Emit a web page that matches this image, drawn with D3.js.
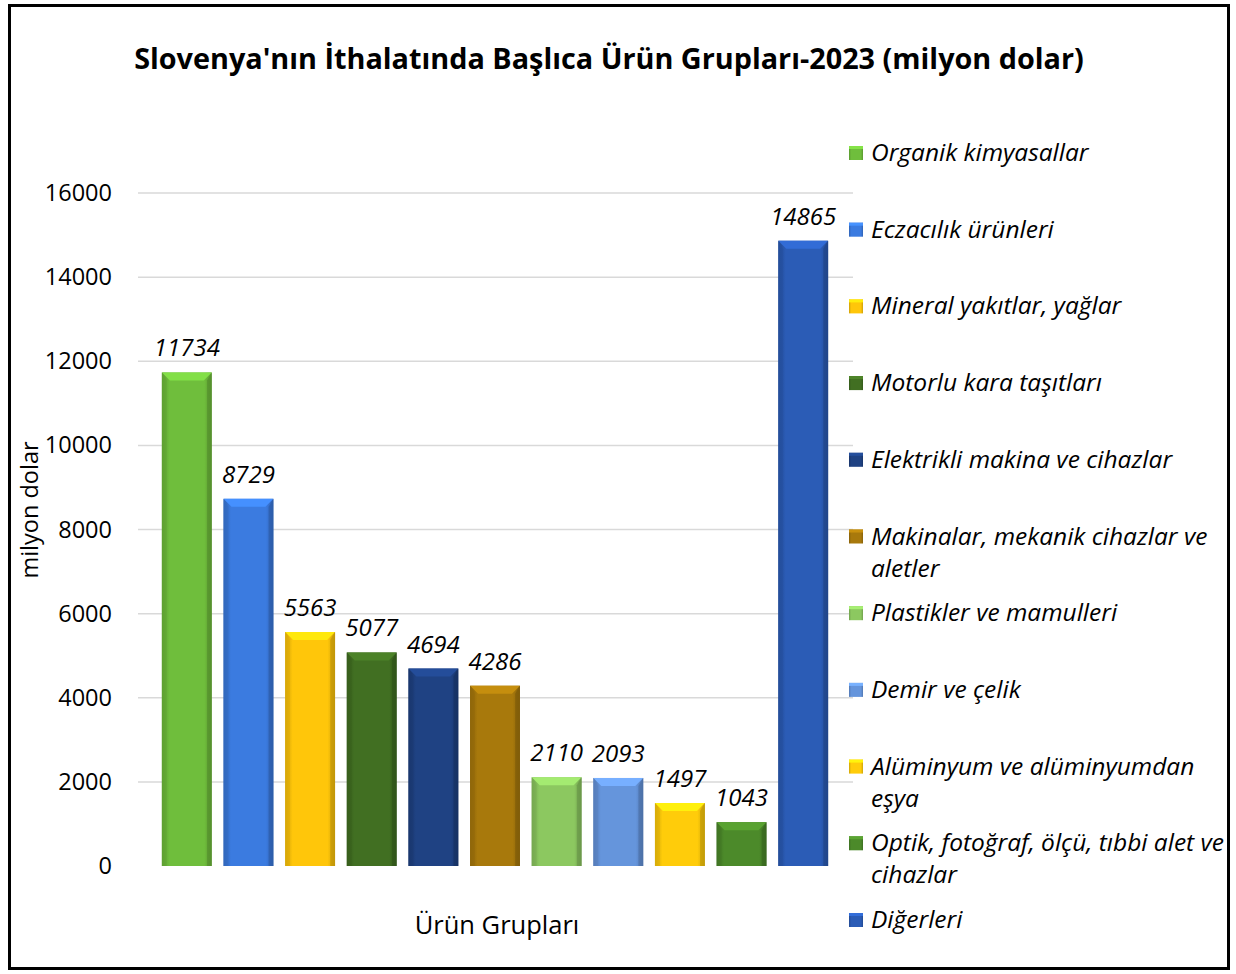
<!DOCTYPE html>
<html>
<head>
<meta charset="utf-8">
<script src="https://cdn.jsdelivr.net/npm/d3@7"></script>
<style>
  body { margin: 0; background: #fff; }
  text { font-family: "Open Sans", "Noto Sans", sans-serif; }
</style>
</head>
<body>
<svg id="chart"></svg>
<script>
// data
const categories = [
  "Organik kimyasallar", "Eczacılık ürünleri", "Mineral yakıtlar, yağlar",
  "Motorlu kara taşıtları", "Elektrikli makina ve cihazlar",
  "Makinalar, mekanik cihazlar ve aletler", "Plastikler ve mamulleri",
  "Demir ve çelik", "Alüminyum ve alüminyumdan eşya",
  "Optik, fotoğraf, ölçü, tıbbi alet ve cihazlar", "Diğerleri"
];
const values = [11734, 8729, 5563, 5077, 4694, 4286, 2110, 2093, 1497, 1043, 14865];
const legendLines = [
  ["Organik kimyasallar"], ["Eczacılık ürünleri"], ["Mineral yakıtlar, yağlar"],
  ["Motorlu kara taşıtları"], ["Elektrikli makina ve cihazlar"],
  ["Makinalar, mekanik cihazlar ve", "aletler"], ["Plastikler ve mamulleri"],
  ["Demir ve çelik"], ["Alüminyum ve alüminyumdan", "eşya"],
  ["Optik, fotoğraf, ölçü, tıbbi alet ve", "cihazlar"], ["Diğerleri"]
];
const colors = ["#6fbe3c", "#3b7be0", "#ffc60a", "#416f22", "#1f4283", "#a8790c",
                "#8cc860", "#6595dc", "#ffcc0a", "#4c8a2a", "#2b5cb6"];
const yTicks = [0, 2000, 4000, 6000, 8000, 10000, 12000, 14000, 16000];

const width = 1236, height = 974;
const svg = d3.select("#chart").attr("width", width).attr("height", height);
const defs = svg.append("defs");

// frame
svg.append("rect").attr("x", 9.5).attr("y", 5.5).attr("width", 1219).attr("height", 963)
  .attr("fill", "#fff").attr("stroke", "#000").attr("stroke-width", 3);

svg.append("text").attr("x", 609).attr("y", 69).attr("text-anchor", "middle")
  .attr("font-size", 28.8).attr("font-weight", "bold")
  .text("Slovenya'nın İthalatında Başlıca Ürün Grupları-2023 (milyon dolar)");

const x = d3.scaleBand().domain(categories).range([156, 834]).paddingInner(0.19).paddingOuter(0.095);
const y = d3.scaleLinear().domain([0, 16000]).range([866, 193]);

// gridlines
svg.append("g").selectAll("line").data(yTicks.slice(1)).join("line")
  .attr("x1", 138).attr("x2", 853)
  .attr("y1", d => y(d)).attr("y2", d => y(d))
  .attr("stroke", "#d9d9d9").attr("stroke-width", 1.5);

const yAxis = svg.append("g").attr("transform", "translate(112,0)")
  .call(d3.axisLeft(y).tickValues(yTicks).tickSize(0).tickPadding(0).tickFormat(d3.format("d")));
yAxis.select(".domain").remove();
yAxis.selectAll("text").attr("font-size", 23.5).attr("fill", "#000")
  .style("font-family", "'Open Sans', sans-serif");

svg.append("text").attr("transform", "translate(38,510) rotate(-90)")
  .attr("text-anchor", "middle").attr("font-size", 23.5).text("milyon dolar");
svg.append("text").attr("x", 497).attr("y", 934).attr("text-anchor", "middle")
  .attr("font-size", 25.5).text("Ürün Grupları");

// gradients
colors.forEach((c, i) => {
  const g = defs.append("linearGradient").attr("id", "g" + i).attr("x1", 0).attr("x2", 1).attr("y1", 0).attr("y2", 0);
  const base = d3.color(c);
  g.append("stop").attr("offset", "0%").attr("stop-color", base.darker(0.6));
  g.append("stop").attr("offset", "15%").attr("stop-color", base);
  g.append("stop").attr("offset", "85%").attr("stop-color", base);
  g.append("stop").attr("offset", "100%").attr("stop-color", base.darker(0.6));
});

const bw = x.bandwidth(), bev = 8;
const bars = svg.append("g").selectAll("g").data(categories).join("g");
bars.append("rect")
  .attr("x", d => x(d)).attr("y", (d, i) => y(values[i]))
  .attr("width", bw).attr("height", (d, i) => y(0) - y(values[i]))
  .attr("fill", (d, i) => `url(#g${i})`);
// top bevel
bars.append("path")
  .attr("d", (d, i) => {
    const x0 = x(d), y0 = y(values[i]);
    return `M${x0},${y0}L${x0 + bw},${y0}L${x0 + bw - bev},${y0 + bev}L${x0 + bev},${y0 + bev}Z`;
  })
  .attr("fill", (d, i) => d3.color(colors[i]).brighter(0.45));
// side bevels
bars.append("path")
  .attr("d", (d, i) => {
    const x0 = x(d), y0 = y(values[i]), yb = y(0);
    return `M${x0},${y0}L${x0 + bev * 0.6},${y0 + bev}L${x0 + bev * 0.6},${yb}L${x0},${yb}Z`;
  })
  .attr("fill", (d, i) => d3.color(colors[i]).darker(0.4)).attr("opacity", 0.6);
bars.append("path")
  .attr("d", (d, i) => {
    const x0 = x(d) + bw, y0 = y(values[i]), yb = y(0);
    return `M${x0},${y0}L${x0 - bev * 0.6},${y0 + bev}L${x0 - bev * 0.6},${yb}L${x0},${yb}Z`;
  })
  .attr("fill", (d, i) => d3.color(colors[i]).darker(0.9)).attr("opacity", 0.6);

// value labels
svg.append("g").selectAll("text").data(categories).join("text")
  .attr("x", d => x(d) + bw / 2).attr("y", (d, i) => y(values[i]) - 16)
  .attr("text-anchor", "middle").attr("font-size", 24).attr("font-style", "italic")
  .text((d, i) => values[i]);

// legend
const lg = svg.append("g").selectAll("g").data(legendLines).join("g")
  .attr("transform", (d, i) => `translate(849,${153 + i * 76.7})`);
lg.append("rect").attr("x", 0).attr("y", -7).attr("width", 14).attr("height", 14)
  .attr("fill", (d, i) => `url(#g${i})`);
lg.append("rect").attr("x", 0).attr("y", -7).attr("width", 14).attr("height", 3)
  .attr("fill", (d, i) => d3.color(colors[i]).brighter(0.5));
lg.append("text").attr("x", 22).attr("y", 8).attr("font-size", 24.5).attr("font-style", "italic")
  .selectAll("tspan").data(d => d).join("tspan")
  .attr("x", 22).attr("dy", (d, j) => j === 0 ? 0 : 32).text(d => d);
</script>
</body>
</html>
